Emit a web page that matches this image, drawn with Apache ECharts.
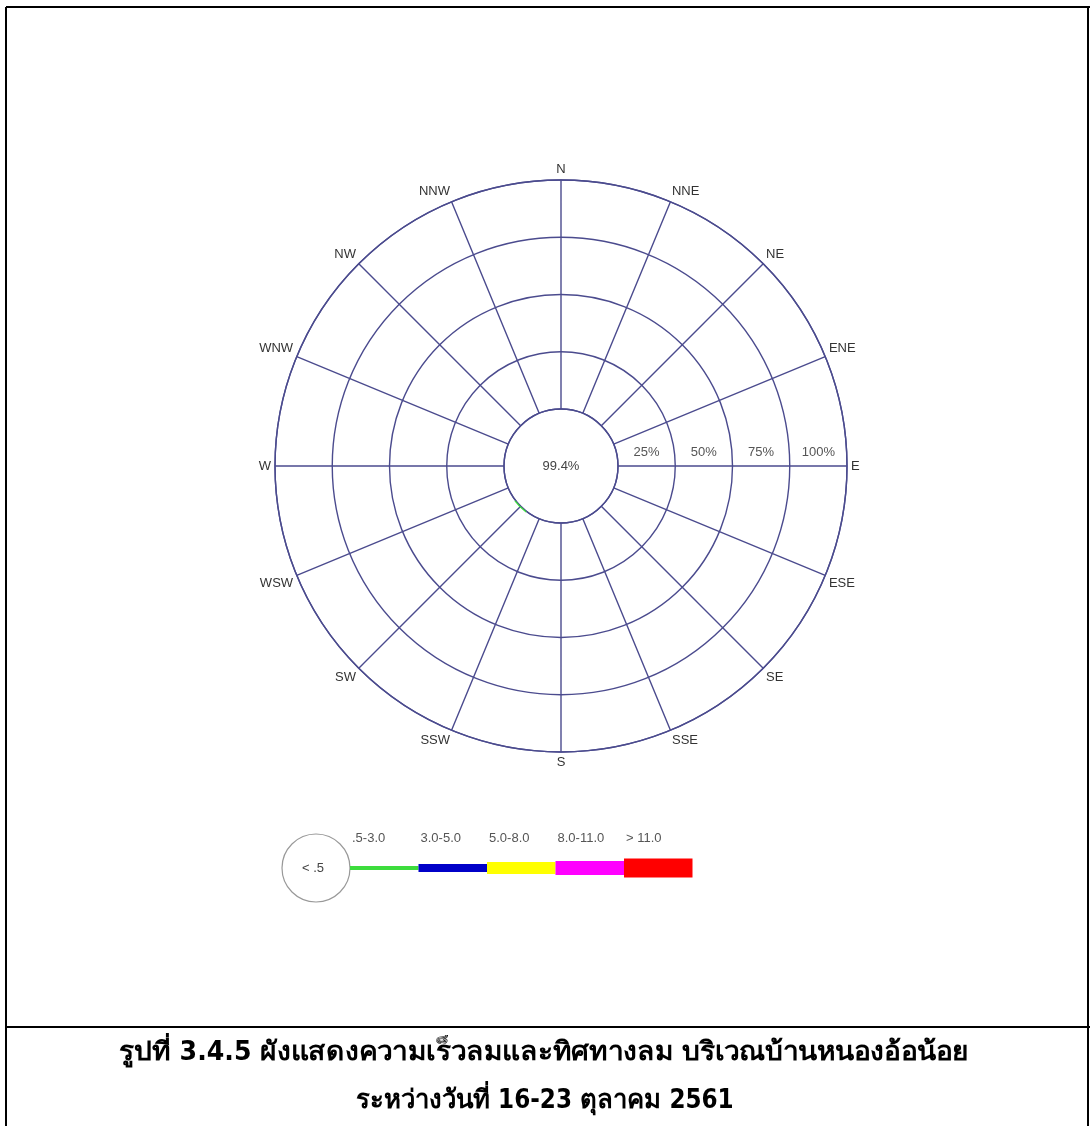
<!DOCTYPE html>
<html>
<head>
<meta charset="utf-8">
<script src="https://cdn.jsdelivr.net/npm/echarts@6/dist/echarts.min.js"></script>
<style>
  html, body { margin: 0; padding: 0; background: #fff; }
  #chart { width: 1090px; height: 1126px; }
</style>
</head>
<body>
<div id="chart"></div>
<script>
// wind directions, clockwise from north
const directions = ['N', 'NNE', 'NE', 'ENE', 'E', 'ESE', 'SE', 'SSE', 'S', 'SSW', 'SW', 'WSW', 'W', 'WNW', 'NW', 'NNW'];
// wind speed classes (m/s)
const speedClasses = ['.5-3.0', '3.0-5.0', '5.0-8.0', '8.0-11.0', '> 11.0'];
const speedColors = ['#3ddc3d', '#0000c8', '#ffff00', '#ff00ff', '#ff0000'];
// frequency (%) per direction for each speed class
const freq_05_30 = [0, 0, 0, 0, 0, 0, 0, 0, 0, 0, 0.6, 0, 0, 0, 0, 0];
const freq_30_50 = [0, 0, 0, 0, 0, 0, 0, 0, 0, 0, 0, 0, 0, 0, 0, 0];
const freq_50_80 = [0, 0, 0, 0, 0, 0, 0, 0, 0, 0, 0, 0, 0, 0, 0, 0];
const freq_80_110 = [0, 0, 0, 0, 0, 0, 0, 0, 0, 0, 0, 0, 0, 0, 0, 0];
const freq_110 = [0, 0, 0, 0, 0, 0, 0, 0, 0, 0, 0, 0, 0, 0, 0, 0];
const calmPercent = 99.4;
const ringLabels = ['25%', '50%', '75%', '100%'];
const calmLabel = '< .5';
const titleLines = ['รูปที่ 3.4.5 ผังแสดงความเร็วลมและทิศทางลม บริเวณบ้านหนองอ้อน้อย', 'ระหว่างวันที่ 16-23 ตุลาคม 2561'];

const seriesData = [freq_05_30, freq_30_50, freq_50_80, freq_80_110, freq_110];
const step = 360 / directions.length;

const gridColor = '#4b4b8e';
const center = [561, 466];
const radius = [57, 286];
const labelFont = '"Liberation Sans", Arial, sans-serif';
const titleFont = 'bold 24px "Liberation Sans Narrow", "DejaVu Sans Condensed", sans-serif';

const chart = echarts.init(document.getElementById('chart'), null, { renderer: 'canvas' });

// legend built from the speed classes
const legendX = 350, legendY = 868;
const legendW = 68.5;
const legendH = [4, 8, 12, 14, 19];
const legendEls = [
  { type: 'circle', shape: { cx: 316, cy: legendY, r: 34 }, style: { fill: '#fff', stroke: '#999', lineWidth: 1.2 } },
  { type: 'text', x: 313, y: legendY, style: { text: calmLabel, font: '13px ' + labelFont, fill: '#444', align: 'center', verticalAlign: 'middle' } }
];
speedClasses.forEach(function (name, i) {
  legendEls.push({
    type: 'rect',
    shape: { x: legendX + i * legendW, y: legendY - legendH[i] / 2, width: legendW, height: legendH[i] },
    style: { fill: speedColors[i] }
  });
  legendEls.push({
    type: 'text', x: legendX + i * legendW + 2, y: 838,
    style: { text: name, font: '13px ' + labelFont, fill: '#555', align: 'left', verticalAlign: 'middle' }
  });
});

const frameEls = [
  { type: 'line', shape: { x1: 6, y1: 7, x2: 1090, y2: 7 }, style: { stroke: '#000', lineWidth: 2 } },
  { type: 'line', shape: { x1: 6, y1: 7, x2: 6, y2: 1126 }, style: { stroke: '#000', lineWidth: 2 } },
  { type: 'line', shape: { x1: 1088, y1: 7, x2: 1088, y2: 1126 }, style: { stroke: '#000', lineWidth: 2 } },
  { type: 'line', shape: { x1: 6, y1: 1027, x2: 1090, y2: 1027 }, style: { stroke: '#000', lineWidth: 2 } },
  { type: 'text', x: 544, y: 1053, scaleX: 1.17, scaleY: 1.08, style: { text: titleLines[0], font: titleFont, fill: '#000', align: 'center', verticalAlign: 'middle' } },
  { type: 'text', x: 545, y: 1101, scaleX: 1.07, scaleY: 1.08, style: { text: titleLines[1], font: titleFont, fill: '#000', align: 'center', verticalAlign: 'middle' } },
  { type: 'text', x: center[0], y: center[1], style: { text: calmPercent.toFixed(1) + '%', font: '13px ' + labelFont, fill: '#444', align: 'center', verticalAlign: 'middle' } }
];

const option = {
  backgroundColor: '#fff',
  animation: false,
  polar: [
    { center: center, radius: radius },
    { center: center, radius: radius }
  ],
  angleAxis: [{
    polarIndex: 0,
    type: 'value',
    min: 0,
    max: 360,
    interval: step,
    startAngle: 90,
    clockwise: true,
    axisLine: { lineStyle: { color: gridColor, width: 1.4 } },
    axisTick: { show: false },
    axisLabel: {
      color: '#333', fontSize: 13, margin: 4, fontFamily: labelFont,
      formatter: function (v) {
        const i = Math.round(v / step);
        return i < directions.length ? directions[i] : '';
      }
    },
    splitLine: { show: true, lineStyle: { color: gridColor, width: 1.4 } }
  }, {
    polarIndex: 1,
    type: 'value',
    startAngle: 0,
    show: false
  }],
  radiusAxis: [{
    polarIndex: 0,
    type: 'value',
    min: 0,
    max: 100,
    interval: 25,
    axisLine: { show: false },
    axisTick: { show: false },
    axisLabel: { show: false },
    splitLine: { show: true, lineStyle: { color: gridColor, width: 1.4 } }
  }, {
    polarIndex: 1,
    type: 'category',
    data: ringLabels,
    axisLine: { show: false },
    axisTick: { show: false },
    splitLine: { show: false },
    axisLabel: { color: '#555', fontSize: 13, margin: 7, fontFamily: labelFont }
  }],
  series: speedClasses.map(function (name, i) {
    return {
      name: name,
      type: 'bar',
      coordinateSystem: 'polar',
      polarIndex: 0,
      stack: 'wind',
      barCategoryGap: '30%',
      itemStyle: { color: speedColors[i] },
      data: seriesData[i].map(function (v, k) { return [v, k * step]; })
    };
  }),
  graphic: frameEls.concat(legendEls)
};

chart.setOption(option);
</script>
</body>
</html>
